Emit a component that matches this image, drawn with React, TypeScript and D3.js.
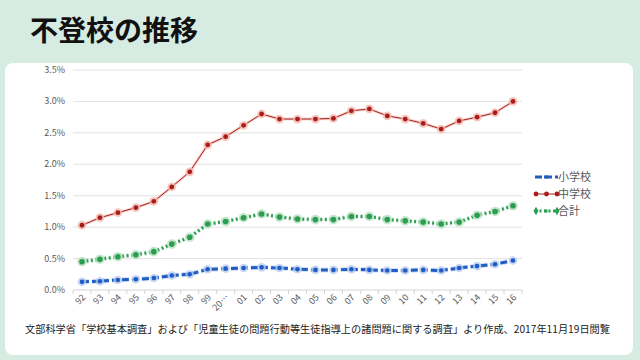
import { useEffect, useRef } from "react";
import * as d3 from "d3";

// year labels as shown on the axis (2000 is truncated in the source)
const years = ["92", "93", "94", "95", "96", "97", "98", "99", "20…", "01", "02", "03", "04", "05", "06", "07", "08", "09", "10", "11", "12", "13", "14", "15", "16"];

// 不登校率 (%)
const elementary = [0.13, 0.14, 0.16, 0.17, 0.19, 0.23, 0.25, 0.33, 0.34, 0.35, 0.36, 0.35, 0.33, 0.32, 0.32, 0.33, 0.32, 0.31, 0.31, 0.32, 0.31, 0.35, 0.38, 0.41, 0.47];
const middle = [1.03, 1.15, 1.23, 1.31, 1.41, 1.64, 1.88, 2.31, 2.44, 2.62, 2.80, 2.72, 2.72, 2.72, 2.73, 2.85, 2.88, 2.77, 2.72, 2.65, 2.56, 2.69, 2.75, 2.82, 3.00];
const total = [0.45, 0.49, 0.53, 0.56, 0.61, 0.73, 0.84, 1.05, 1.09, 1.15, 1.21, 1.16, 1.13, 1.12, 1.12, 1.17, 1.17, 1.12, 1.10, 1.08, 1.05, 1.08, 1.19, 1.25, 1.34];

const yTicks = [0, 0.5, 1.0, 1.5, 2.0, 2.5, 3.0, 3.5];

const FONT = "'Noto Sans CJK JP', 'Noto Sans', sans-serif";

const SERIES = [
  { name: "小学校", values: elementary, color: "#1f5cc4", glow: "#b9cdf0", dash: "7,3", width: 3, r: 2.3 },
  { name: "中学校", values: middle, color: "#a81c1c", glow: "#f3b9ae", dash: null, width: 1, r: 2.4 },
  { name: "合計", values: total, color: "#2a9d50", glow: "#b5e0c0", dash: "2,2.5", width: 3, r: 2.8 },
];

export default function App() {
  const svgRef = useRef<SVGSVGElement>(null);

  useEffect(() => {
    if (!svgRef.current) return;
    const svg = d3.select(svgRef.current);
    svg.selectAll("*").remove();

    // background + white panel
    svg.append("rect").attr("width", 640).attr("height", 360).attr("fill", "#d6ece2");
    svg.append("rect")
      .attr("x", 5).attr("y", 63).attr("width", 628).attr("height", 292)
      .attr("rx", 8).attr("fill", "#ffffff");

    svg.append("text")
      .attr("x", 30).attr("y", 41)
      .attr("font-family", FONT).attr("font-weight", 700).attr("font-size", 28)
      .attr("fill", "#111").text("不登校の推移");

    const x = d3.scaleBand<string>().domain(years).range([73, 522]).padding(0);
    const y = d3.scaleLinear().domain([0, 3.5]).range([290, 70]);

    // gridlines
    svg.append("g").selectAll("line")
      .data(yTicks.filter((d) => d > 0))
      .enter().append("line")
      .attr("x1", 73).attr("x2", 522)
      .attr("y1", (d) => y(d)).attr("y2", (d) => y(d))
      .attr("stroke", "#e3e3e3").attr("stroke-width", 1);

    // y labels
    svg.append("g").selectAll("text")
      .data(yTicks).enter().append("text")
      .attr("x", 65).attr("y", (d) => y(d) + 3)
      .attr("text-anchor", "end")
      .attr("font-family", FONT).attr("font-size", 9).attr("fill", "#595959")
      .text((d) => d.toFixed(1) + "%");

    // x axis
    const xAxis = svg.append("g");
    xAxis.append("line")
      .attr("x1", 73).attr("x2", 522).attr("y1", 290).attr("y2", 290)
      .attr("stroke", "#d4d4d4");
    xAxis.selectAll("line.tick")
      .data(years.concat(["end"]))
      .enter().append("line").attr("class", "tick")
      .attr("x1", (d, i) => 73 + i * x.bandwidth())
      .attr("x2", (d, i) => 73 + i * x.bandwidth())
      .attr("y1", 290).attr("y2", 294)
      .attr("stroke", "#d4d4d4");
    xAxis.selectAll("text")
      .data(years).enter().append("text")
      .attr("transform", (d) => `translate(${x(d)! + x.bandwidth() / 2 + 4},${298}) rotate(-45)`)
      .attr("text-anchor", "end")
      .attr("font-family", FONT).attr("font-size", 9).attr("fill", "#595959")
      .text((d) => d);

    const cx = (i: number) => x(years[i])! + x.bandwidth() / 2;
    const line = d3.line<number>().x((d, i) => cx(i)).y((d) => y(d));

    SERIES.forEach((s) => {
      const g = svg.append("g");
      // glow
      g.append("path").datum(s.values)
        .attr("d", line).attr("fill", "none")
        .attr("stroke", s.glow).attr("stroke-width", s.width + 2)
        .attr("stroke-dasharray", s.dash ?? null).attr("opacity", 0.6);
      g.append("path").datum(s.values)
        .attr("d", line).attr("fill", "none")
        .attr("stroke", s.color).attr("stroke-width", s.width)
        .attr("stroke-dasharray", s.dash ?? null);
      g.selectAll("circle.glow").data(s.values).enter().append("circle")
        .attr("class", "glow")
        .attr("cx", (d, i) => cx(i)).attr("cy", (d) => y(d))
        .attr("r", s.r + 2).attr("fill", s.glow).attr("opacity", 0.8);
      g.selectAll("circle.m").data(s.values).enter().append("circle")
        .attr("class", "m")
        .attr("cx", (d, i) => cx(i)).attr("cy", (d) => y(d))
        .attr("r", s.r).attr("fill", s.color);
    });

    // legend
    const lg = svg.append("g");
    SERIES.forEach((s, i) => {
      const ly = 177 + i * 17;
      lg.append("line")
        .attr("x1", 535).attr("x2", 558).attr("y1", ly).attr("y2", ly)
        .attr("stroke", s.color).attr("stroke-width", s.width)
        .attr("stroke-dasharray", s.dash ?? null);
      if (i === 0) {
        lg.append("rect").attr("x", 544).attr("y", ly - 1.5).attr("width", 4).attr("height", 3).attr("fill", s.color);
      } else if (i === 1) {
        [536, 546.5, 557].forEach((px) =>
          lg.append("circle").attr("cx", px).attr("cy", ly).attr("r", 2.4).attr("fill", s.color));
      } else {
        [536, 557].forEach((px) =>
          lg.append("path").attr("d", d3.symbol(d3.symbolDiamond, 22)()).attr("transform", `translate(${px},${ly})`).attr("fill", s.color));
        lg.append("rect").attr("x", 544.5).attr("y", ly - 1.5).attr("width", 3).attr("height", 3).attr("fill", s.color);
      }
      lg.append("text")
        .attr("x", 558).attr("y", ly + 4)
        .attr("font-family", FONT).attr("font-size", 11).attr("fill", "#595959")
        .text(s.name);
    });

    svg.append("text")
      .attr("x", 25).attr("y", 333)
      .attr("font-family", FONT).attr("font-size", 10.5).attr("fill", "#222")
      .attr("textLength", 585).attr("lengthAdjust", "spacingAndGlyphs")
      .text("文部科学省「学校基本調査」および「児童生徒の問題行動等生徒指導上の諸問題に関する調査」より作成、2017年11月19日閲覧");
  }, []);

  return (
    <svg
      ref={svgRef}
      width={640}
      height={360}
      style={{ position: "fixed", left: 0, top: 0, display: "block" }}
    />
  );
}
